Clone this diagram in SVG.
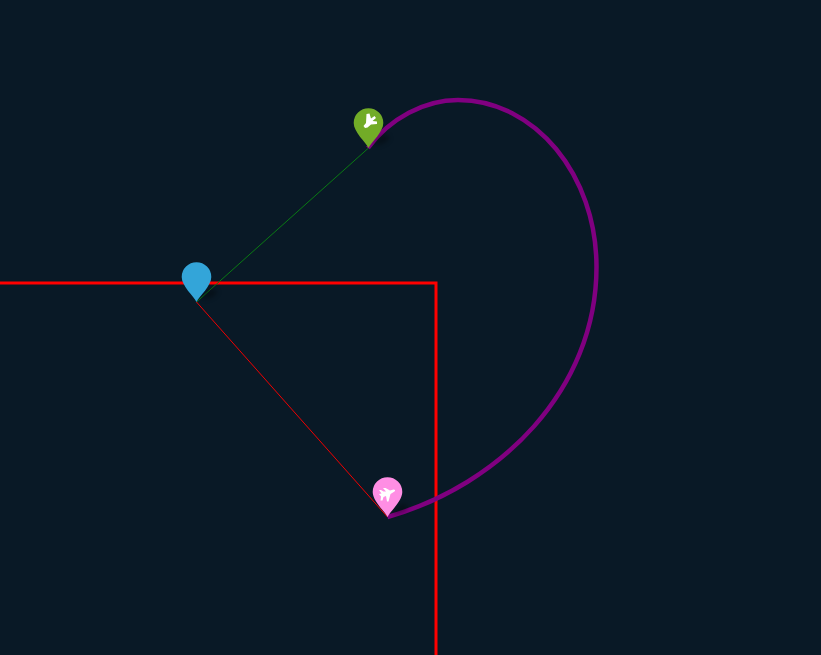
<svg xmlns="http://www.w3.org/2000/svg" width="821" height="655" viewBox="0 0 821 655">
<style>
.bg{fill:#091926}
.pin{stroke:none}
.shadow{fill:#000;opacity:.35;filter:url(#blur)}
.glyph{fill:#fff}
.wall{fill:none;stroke:#ff0000;stroke-width:3}
.arc{fill:none;stroke:#800080;stroke-width:4.500}
</style>
<defs>
<filter id="blur" x="-50%" y="-50%" width="200%" height="200%"><feGaussianBlur stdDeviation="2.500"/></filter>
<path id="pinShape" d="M0 0C-3 -6 -14.800 -16 -14.800 -25A14.800 14.800 0 1 1 14.800 -25C14.800 -16 3 -6 0 0Z"/>
<path id="pinShadow" d="M4 -3L12 -12Q18 -15 21 -10Q17 -4 8 -3Z"/>
</defs>
<rect class="bg" width="821" height="655"/>
<g id="connectors">
<path class="wall" d="M0 283H436V655"/>
<path d="M196.500 302L368.500 148" fill="none" stroke="#0a7a14" stroke-width="1"/>
<path d="M196.500 302L387.500 517" fill="none" stroke="#f00000" stroke-width="1"/>
<path class="arc" d="M368 148C390 118 425 100 458 100C535 100 596.500 175 596.500 267C596.500 390 500 485 387.500 517"/>
</g>
<g id="node-origin" transform="translate(196.500 302)">
<use href="#pinShadow" class="shadow"/>
<use href="#pinShape" class="pin" fill="#33a5d9"/>
</g>
<g id="node-arrival" transform="translate(368.500 148)">
<use href="#pinShadow" class="shadow"/>
<use href="#pinShape" class="pin" fill="#72ac27"/>
<path class="glyph" d="M-5 -22L-2.500 -25L-2 -34L1 -34.500L2.500 -29.500L6 -32L7.500 -30L4 -27L8.500 -26.500L8.500 -24L2.500 -23.500L-1 -20.500L-3.500 -20Z"/>
</g>
<g id="node-departure" transform="translate(387.500 517)">
<use href="#pinShadow" class="shadow"/>
<use href="#pinShape" class="pin" fill="#ff8ee4"/>
<path class="glyph" d="M-8.500 -27L-6.500 -27L-4 -25.500L-1.500 -25.500L-4.500 -29L-2 -29L2.500 -26.500L6 -27.500Q8.500 -27.500 7 -25.500L3 -23L1 -15.500L-0.500 -15.500L-1.500 -21L-4 -20L-5 -16.500L-7 -16.500L-6.500 -20.500L-8.500 -23L-6 -23.500Z"/>
</g>
</svg>
